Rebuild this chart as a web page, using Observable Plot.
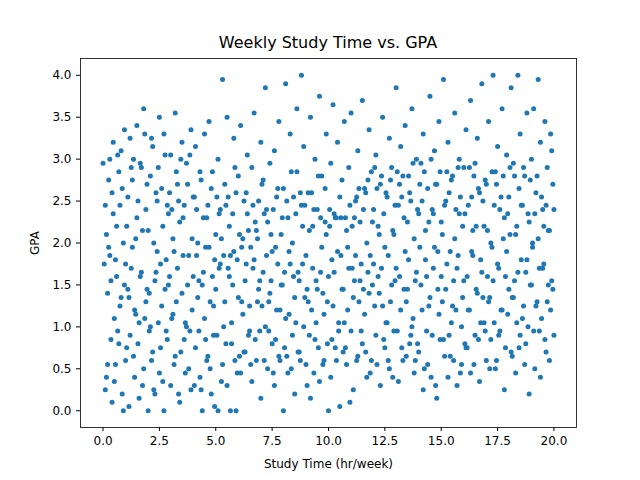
<!DOCTYPE html>
<html>
<head>
<meta charset="utf-8">
<script src="https://cdn.jsdelivr.net/npm/d3@7"></script>
<script src="https://cdn.jsdelivr.net/npm/@observablehq/plot@0.6"></script>
<style>
  body { margin: 0; background: #fff; font-family: "DejaVu Sans", sans-serif; }
  #chart { width: 640px; height: 480px; position: relative; }
  #title { position: absolute; top: 33px; width: 656px; text-align: center; font-size: 16px; }
</style>
</head>
<body>
<div id="chart"><div id="title">Weekly Study Time vs. GPA</div></div>
<script>
// study hours and GPA (a sample of the points)
const studyHours = [
  0.0,0.1,0.1,0.2,0.2,0.3,0.3,0.4,0.4,0.5,0.5,0.6,0.6,0.7,0.7,0.8,0.8,0.9,0.9,1.0,
  1.0,1.1,1.1,1.2,1.2,1.3,1.3,1.4,1.4,1.5,1.5,1.6,1.6,1.7,1.7,1.8,1.8,1.9,1.9,2.0,
  2.0,2.1,2.1,2.2,2.2,2.3,2.3,2.4,2.4,2.5,2.5,2.6,2.6,2.7,2.7,2.8,2.8,2.9,2.9,3.0,
  3.0,3.1,3.1,3.2,3.2,3.3,3.3,3.4,3.4,3.5,3.5,3.6,3.6,3.7,3.7,3.8,3.8,3.9,3.9,4.0,
  4.0,4.1,4.1,4.2,4.2,4.3,4.3,4.4,4.4,4.5,4.5,4.6,4.6,4.7,4.7,4.8,4.8,4.9,4.9,5.0,
  5.0,5.1,5.1,5.2,5.2,5.3,5.3,5.4,5.4,5.5,5.5,5.6,5.6,5.7,5.7,5.8,5.8,5.9,5.9,6.0,
  6.0,6.1,6.1,6.2,6.2,6.3,6.3,6.4,6.4,6.5,6.5,6.6,6.6,6.7,6.7,6.8,6.8,6.9,6.9,7.0,
  7.0,7.1,7.1,7.2,7.2,7.3,7.3,7.4,7.4,7.5,7.5,7.6,7.6,7.7,7.7,7.8,7.8,7.9,7.9,8.0,
  8.0,8.1,8.1,8.2,8.2,8.3,8.3,8.4,8.4,8.5,8.5,8.6,8.6,8.7,8.7,8.8,8.8,8.9,8.9,9.0,
  9.0,9.1,9.1,9.2,9.2,9.3,9.3,9.4,9.4,9.5,9.5,9.6,9.6,9.7,9.7,9.8,9.8,9.9,9.9,10.0,
  10.0,10.1,10.1,10.2,10.2,10.3,10.3,10.4,10.4,10.5,10.5,10.6,10.6,10.7,10.7,10.8,10.8,10.9,10.9,11.0,
  11.0,11.1,11.1,11.2,11.2,11.3,11.3,11.4,11.4,11.5,11.5,11.6,11.6,11.7,11.7,11.8,11.8,11.9,11.9,12.0,
  12.0,12.1,12.1,12.2,12.2,12.3,12.3,12.4,12.4,12.5,12.5,12.6,12.6,12.7,12.7,12.8,12.8,12.9,12.9,13.0,
  13.0,13.1,13.1,13.2,13.2,13.3,13.3,13.4,13.4,13.5,13.5,13.6,13.6,13.7,13.7,13.8,13.8,13.9,13.9,14.0,
  14.0,14.1,14.1,14.2,14.2,14.3,14.3,14.4,14.4,14.5,14.5,14.6,14.6,14.7,14.7,14.8,14.8,14.9,14.9,15.0,
  15.0,15.1,15.1,15.2,15.2,15.3,15.3,15.4,15.4,15.5,15.5,15.6,15.6,15.7,15.7,15.8,15.8,15.9,15.9,16.0,
  16.0,16.1,16.1,16.2,16.2,16.3,16.3,16.4,16.4,16.5,16.5,16.6,16.6,16.7,16.7,16.8,16.8,16.9,16.9,17.0,
  17.0,17.1,17.1,17.2,17.2,17.3,17.3,17.4,17.4,17.5,17.5,17.6,17.6,17.7,17.7,17.8,17.8,17.9,17.9,18.0,
  18.0,18.1,18.1,18.2,18.2,18.3,18.3,18.4,18.4,18.5,18.5,18.6,18.6,18.7,18.7,18.8,18.8,18.9,18.9,19.0,
  19.0,19.1,19.1,19.2,19.2,19.3,19.3,19.4,19.4,19.5,19.5,19.6,19.6,19.7,19.7,19.8,19.8,19.9,19.9,20.0
];
const gpaA = [
  2.95,0.25,2.45,1.4,0.55,3.0,1.85,0.1,2.6,1.1,0.35,2.2,1.6,2.85,0.8,1.35,3.1,0.0,2.0,1.75,
  0.6,2.55,1.45,3.25,0.9,1.95,2.75,0.4,1.2,3.4,2.3,0.15,1.05,2.9,1.65,3.6,0.5,2.4,1.3,0.0,
  2.15,1.0,2.8,0.7,3.15,1.55,0.2,2.5,1.9,3.5,0.45,1.25,2.65,0.0,3.3,1.8,0.95,2.35,1.5,3.05,
  0.3,2.05,1.15,3.55,0.65,2.7,1.7,0.1,2.25,1.4,3.2,0.85,2.45,1.0,2.95,0.5,1.85,3.35,0.25,1.6,
  2.55,0.75,3.15,1.35,2.0,0.4,2.85,1.5,0.0,3.3,1.1,2.3,0.6,1.95,3.45,0.2,2.65,1.25,0.9,2.1,
  1.45,3.0,0.0,2.4,1.75,3.95,0.55,1.3,2.7,0.3,3.5,1.6,2.2,0.8,1.05,3.25,1.9,0.0,2.6,1.35,
  2.8,0.45,3.4,1.15,2.05,0.7,1.55,3.05,2.35,0.95,1.25,2.9,0.35,1.8,3.55,2.15,0.6,1.45,2.5,3.2,
  0.15,1.65,2.75,1.0,3.85,0.5,2.25,1.4,2.95,0.8,1.9,3.1,0.3,2.55,1.2,0.65,3.45,2.1,1.5,0.0,
  2.65,3.9,1.1,0.45,2.3,1.75,3.3,0.9,2.0,1.35,0.2,2.85,3.6,1.55,0.7,2.45,4.0,1.0,3.15,1.85,
  0.55,2.6,1.3,3.5,0.15,2.2,1.7,0.85,3.0,1.45,2.4,3.75,0.35,1.95,2.8,1.15,0.6,3.3,2.1,0.0,
  1.6,2.95,0.4,3.65,1.25,2.3,0.75,1.9,3.2,2.55,0.05,1.45,2.75,1.05,3.45,0.55,2.15,1.7,2.9,0.95,
  3.55,1.35,0.25,2.5,1.85,3.1,0.65,2.25,1.55,0.8,3.7,1.15,2.65,0.4,2.0,1.4,3.35,2.85,0.6,1.75,
  2.4,0.9,3.05,1.6,2.2,0.3,2.7,1.25,3.5,1.95,0.75,2.55,1.05,3.25,0.5,1.5,2.9,2.1,0.95,3.85,
  1.7,2.45,0.35,3.15,1.2,2.8,0.6,1.9,3.4,2.25,1.45,0.8,2.6,3.6,1.0,2.05,0.45,1.65,3.0,2.35,
  0.7,2.95,1.5,3.3,0.25,2.15,1.8,2.65,0.55,3.75,1.35,2.4,0.9,1.95,3.1,0.15,2.7,1.15,3.45,1.6,
  2.25,0.85,3.95,1.45,2.5,0.4,3.2,1.9,0.65,2.8,1.25,3.55,2.05,0.3,1.7,3.0,2.35,1.0,0.55,2.9,
  1.55,3.35,0.75,2.45,1.2,3.7,0.45,2.15,1.85,2.95,0.9,1.4,3.25,2.6,0.35,1.65,3.9,2.2,1.05,0.6,
  2.7,1.3,3.45,0.85,2.0,4.0,1.55,2.85,0.5,3.15,1.75,2.4,0.95,3.6,1.2,2.3,0.25,3.05,1.9,1.45,
  2.55,0.7,3.85,1.35,2.95,0.45,2.1,4.0,1.65,0.9,3.3,2.45,1.1,2.8,0.55,3.55,1.8,2.25,0.2,3.0,
  1.5,3.6,0.95,2.6,1.25,3.95,2.05,0.4,3.2,1.7,2.4,0.85,3.45,1.3,2.9,0.6,2.15,3.1,1.55,0.9
];
const gpaB = [
  1.75,0.4,2.1,1.95,2.75,0.85,1.55,3.2,2.35,0.55,1.8,0.95,3.05,2.45,1.25,0.2,2.65,1.5,3.35,0.75,
  2.2,1.35,0.05,2.9,1.7,0.65,3.0,2.05,1.15,2.5,0.8,1.6,2.95,0.3,2.15,1.1,3.3,1.45,2.7,0.95,
  1.4,3.25,0.6,2.0,0.25,2.6,1.65,1.05,2.9,0.75,1.75,2.2,0.35,3.05,1.45,2.45,0.85,1.6,2.6,1.1,
  2.4,0.55,1.9,2.85,1.3,0.2,2.5,3.0,0.7,1.85,2.3,1.05,0.45,2.7,1.5,3.05,0.95,2.05,1.2,2.55,
  0.3,1.85,2.4,0.95,1.55,2.75,0.25,1.65,2.3,0.85,1.95,0.65,2.45,1.3,0.5,2.85,1.6,0.05,1.8,2.55,
  0.9,2.35,1.7,0.35,2.05,1.0,1.85,2.45,0.8,1.7,2.55,0.0,1.85,2.35,1.5,0.6,2.9,0.45,1.8,2.1,
  0.65,1.95,1.3,2.5,0.7,1.75,2.6,0.9,2.15,1.95,0.55,1.7,2.45,0.85,2.25,1.3,2.05,0.95,1.55,2.7,
  1.25,2.35,0.6,1.85,2.4,1.3,0.95,2.1,1.55,0.45,2.4,1.95,0.85,1.75,2.65,1.2,0.6,1.5,2.3,0.75,
  1.65,2.5,0.65,1.9,1.15,2.85,0.5,1.6,2.55,1.05,2.35,0.7,1.65,2.6,0.6,1.75,2.2,1.35,2.45,0.3,
  1.45,0.9,2.15,2.6,1.2,0.45,2.4,1.55,1.05,2.8,0.75,1.65,2.3,1.4,0.55,2.25,2.65,1.3,0.8,2.4,
  2.2,0.85,1.8,2.35,1.65,0.6,2.3,1.05,0.95,1.85,2.3,0.7,1.45,2.3,0.75,1.95,1.2,2.45,0.1,2.2,
  1.7,2.3,1.55,0.6,2.55,1.3,2.65,1.75,0.95,2.4,1.45,2.6,0.7,1.65,2.75,0.45,1.85,2.25,1.5,2.9,
  1.25,2.65,0.55,2.1,1.4,2.8,1.7,0.85,2.35,1.05,2.6,0.6,1.85,2.75,1.3,2.15,0.4,2.45,1.55,2.85,
  0.95,1.6,2.7,0.75,2.55,1.45,2.3,0.65,1.3,2.8,1.8,0.9,2.5,1.1,2.95,0.6,1.55,2.4,0.8,2.7,
  1.95,1.2,2.5,0.5,2.85,0.95,1.6,2.25,1.25,3.0,0.4,1.7,2.35,0.3,2.7,1.45,1.9,2.85,0.85,2.1,
  1.3,2.45,0.65,2.85,1.75,0.9,2.6,1.05,2.75,1.55,0.6,2.4,1.2,2.9,1.85,0.45,2.55,1.35,2.2,0.8,
  2.35,1.6,0.75,2.9,1.2,2.55,1.9,0.55,2.8,1.45,2.2,0.85,2.65,1.05,1.8,2.5,1.35,2.75,0.95,1.6,
  2.15,0.5,1.35,2.85,1.95,1.05,2.45,0.6,2.7,1.7,0.9,2.55,1.2,2.05,2.8,0.75,1.6,2.35,1.15,2.9,
  2.1,1.35,0.65,2.8,1.55,2.2,1.05,2.65,0.75,1.8,2.45,1.25,2.9,0.8,1.65,2.35,1.0,2.75,1.5,2.0,
  1.95,0.5,2.35,1.3,2.8,1.7,0.95,2.55,1.1,2.2,1.75,0.7,2.45,1.5,2.15,1.2,3.3,2.7,1.45,2.4
];
const points = studyHours.flatMap((x, i) => [{x, y: gpaA[i]}, {x: Math.min(20, x + 0.05), y: gpaB[i]}]);

const chart = Plot.plot({
  width: 640, height: 480,
  marginTop: 58, marginBottom: 53, marginLeft: 80, marginRight: 64,
  style: {fontFamily: "DejaVu Sans, sans-serif", fontSize: "12px", color: "#000", background: "transparent"},
  x: {domain: [-1, 21], ticks: d3.range(0, 20.1, 2.5), tickFormat: d3.format(".1f"), label: "Study Time (hr/week)", labelArrow: "none", labelAnchor: "center", labelOffset: 40, tickSize: 4},
  y: {domain: [-0.2, 4.2], ticks: d3.range(0, 4.01, 0.5), tickFormat: d3.format(".1f"), label: "GPA", labelArrow: "none", labelAnchor: "center", labelOffset: 50, tickSize: 4},
  marks: [
    Plot.frame({stroke: "#000", strokeWidth: 0.8}),
    Plot.dot(points, {x: "x", y: "y", r: 2.5, fill: "#1f77b4", stroke: "none"})
  ]
});
chart.style.position = "absolute";
chart.style.left = "0"; chart.style.top = "0";
document.getElementById("chart").appendChild(chart);
</script>
</body>
</html>
